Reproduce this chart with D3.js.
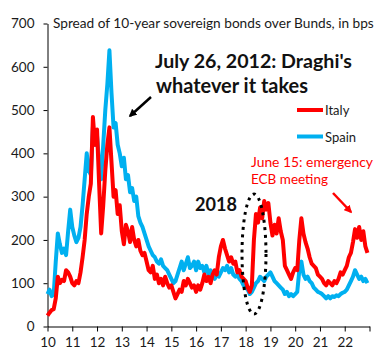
<!DOCTYPE html>
<html>
<head>
<meta charset="utf-8">
<script src="https://cdn.jsdelivr.net/npm/d3@7"></script>
<style>
  body { margin: 0; background: #fff; }
  svg { display: block; font-family: Lato, "Open Sans", sans-serif; }
</style>
</head>
<body>
<div id="chart"></div>
<script>
// monthly spreads (bps), Jan 2010 .. Dec 2022
var startYear = 2010;
var italy = [
  25, 32, 38, 40, 65, 115, 100, 108, 105, 130, 125, 115,
  100, 95, 105, 100, 125, 160, 200, 260, 300, 330, 484, 420,
  455, 330, 215, 280, 360, 420, 460, 380, 300, 315, 260, 280,
  220, 190, 235, 220, 195, 230, 200, 185, 200, 175, 165, 170,
  150, 130, 125, 140, 110, 120, 100, 110, 95, 115, 100, 90,
  95, 80, 65, 75, 85, 80, 105, 95, 110, 100, 90, 95,
  80, 95, 85, 100, 120, 105, 115, 100, 120, 130, 120, 160,
  185, 200, 180, 165, 150, 160, 145, 150, 125, 130, 115, 110,
  105, 90, 80, 95, 200, 260, 240, 275, 250, 290, 270, 285,
  240, 210, 235, 215, 250, 220, 200, 140, 130, 120, 110, 125,
  135, 130, 200, 250, 215, 195, 180, 160, 145, 140, 135, 120,
  115, 110, 100, 95, 105, 100, 95, 105, 100, 110, 125, 120,
  130, 140, 160, 170, 195, 225, 205, 230, 200, 220, 185, 170
];
var spain = [
  75, 85, 70, 75, 150, 215, 190, 170, 180, 165, 220, 270,
  230, 210, 195, 205, 230, 280, 340, 400, 360, 350, 460, 420,
  440, 380, 340, 420, 500, 560, 638, 540, 460, 470, 420, 400,
  370, 390, 340, 350, 310, 320, 290, 300, 255, 240, 230, 215,
  200, 185, 175, 165, 160, 150, 145, 155, 140, 135, 130, 120,
  110, 100, 105, 120, 135, 150, 130, 145, 160, 135, 140, 150,
  130, 150, 135, 140, 125, 140, 120, 130, 115, 110, 120, 115,
  125, 135, 130, 140, 125, 135, 120, 115, 120, 110, 105, 95,
  90, 85, 75, 80, 90, 100, 105, 115, 110, 105, 115, 120,
  125, 115, 105, 100, 95, 90, 85, 75, 80, 70, 75, 70,
  75, 80, 130, 150, 120, 110, 115, 105, 100, 90, 85, 80,
  78, 75, 70, 65, 70, 65, 70, 68, 72, 70, 75, 78,
  80, 85, 95, 105, 115, 130, 120, 110, 115, 105, 110, 100
];
var yTicks = [0, 100, 200, 300, 400, 500, 600, 700];
var xYears = [2010, 2011, 2012, 2013, 2014, 2015, 2016, 2017, 2018, 2019, 2020, 2021, 2022, 2023];
var xLabels = ["10", "11", "12", "13", "14", "15", "16", "17", "18", "19", "20", "21", "22", ""];
var seriesNames = ["Italy", "Spain"];
var seriesColors = ["#ff0000", "#00b0f0"];

var width = 384, height = 360;

var svg = d3.select("#chart").append("svg")
    .attr("width", width)
    .attr("height", height);

var x = d3.scaleLinear().domain([2010, 2023]).range([47.5, 369.5]);
var y = d3.scaleLinear().domain([0, 700]).range([326.5, 23.5]);

// shrink/grow a text so that it spans a given width
function fit(sel, w) {
    var node = sel.node();
    var len = node.getComputedTextLength();
    var fs = parseFloat(sel.attr("font-size"));
    sel.attr("font-size", (fs * w / len).toFixed(2));
    return sel;
}

// axes
var yAxis = svg.append("g")
    .attr("transform", "translate(47.5,0)")
    .call(d3.axisLeft(y).tickValues(yTicks).tickSize(4).tickSizeOuter(0).tickPadding(9));
var xAxis = svg.append("g")
    .attr("transform", "translate(0,326.5)")
    .call(d3.axisBottom(x).tickValues(xYears).tickSize(5).tickSizeOuter(0)
        .tickFormat(function(d, i) { return xLabels[i]; }).tickPadding(6));

[yAxis, xAxis].forEach(function(a) {
    a.selectAll("path, line").attr("stroke", "#000").attr("stroke-width", 1);
    a.selectAll("text").attr("fill", "#1a1a1a")
        .attr("font-size", 13.5)
        .attr("font-family", "Lato, sans-serif");
});

// lines
var line = d3.line()
    .x(function(d, i) { return x(startYear + i / 12); })
    .y(function(d) { return y(d); });

svg.append("path")
    .datum(spain)
    .attr("fill", "none")
    .attr("stroke", seriesColors[1])
    .attr("stroke-width", 4)
    .attr("stroke-linejoin", "round")
    .attr("d", line);

svg.append("path")
    .datum(italy)
    .attr("fill", "none")
    .attr("stroke", seriesColors[0])
    .attr("stroke-width", 4)
    .attr("stroke-linejoin", "round")
    .attr("d", line);

// title
fit(svg.append("text")
    .attr("x", 53).attr("y", 28)
    .attr("font-size", 13)
    .attr("fill", "#1a1a1a")
    .text("Spread of 10-year sovereign bonds over Bunds, in bps"), 321);

// legend
seriesNames.forEach(function(name, i) {
    var ly = 110 + i * 26.5;
    svg.append("line")
        .attr("x1", 297).attr("x2", 323)
        .attr("y1", ly).attr("y2", ly)
        .attr("stroke", seriesColors[i])
        .attr("stroke-width", 4);
    svg.append("text")
        .attr("x", 325).attr("y", ly + 5)
        .attr("font-size", 13)
        .attr("fill", "#1a1a1a")
        .text(name);
});

// Draghi annotation
fit(svg.append("text")
    .attr("x", 155).attr("y", 68)
    .attr("font-size", 19).attr("font-weight", "bold")
    .attr("fill", "#111")
    .text("July 26, 2012: Draghi's"), 197);
fit(svg.append("text")
    .attr("x", 156).attr("y", 93)
    .attr("font-size", 19).attr("font-weight", "bold")
    .attr("fill", "#111")
    .text("whatever it takes"), 152);

var defs = svg.append("defs");
function arrowHead(id, color) {
    defs.append("marker")
        .attr("id", id)
        .attr("viewBox", "0 0 10 10")
        .attr("refX", 8).attr("refY", 5)
        .attr("markerWidth", 3.2).attr("markerHeight", 3.2)
        .attr("orient", "auto")
        .append("path")
        .attr("d", "M0,0 L10,5 L0,10 z")
        .attr("fill", color);
}
arrowHead("headBlack", "#000");
arrowHead("headRed", "#ff0000");

svg.append("line")
    .attr("x1", 151).attr("y1", 97)
    .attr("x2", 130).attr("y2", 116)
    .attr("stroke", "#000").attr("stroke-width", 2.5)
    .attr("marker-end", "url(#headBlack)");

// June 15 annotation
fit(svg.append("text")
    .attr("x", 251).attr("y", 167)
    .attr("font-size", 14)
    .attr("fill", "#ff0000")
    .text("June 15:  emergency"), 122);
fit(svg.append("text")
    .attr("x", 251).attr("y", 184)
    .attr("font-size", 14)
    .attr("fill", "#ff0000")
    .text("ECB meeting"), 77);

svg.append("line")
    .attr("x1", 333).attr("y1", 193)
    .attr("x2", 351).attr("y2", 212)
    .attr("stroke", "#ff0000").attr("stroke-width", 2.5)
    .attr("marker-end", "url(#headRed)");

// 2018 ellipse
fit(svg.append("text")
    .attr("x", 195).attr("y", 211)
    .attr("font-size", 18).attr("font-weight", "bold")
    .attr("fill", "#111")
    .text("2018"), 42);

svg.append("ellipse")
    .attr("cx", 254).attr("cy", 254)
    .attr("rx", 12).attr("ry", 60)
    .attr("fill", "none")
    .attr("stroke", "#000")
    .attr("stroke-width", 3)
    .attr("stroke-dasharray", "3,4.5");
</script>
</body>
</html>
